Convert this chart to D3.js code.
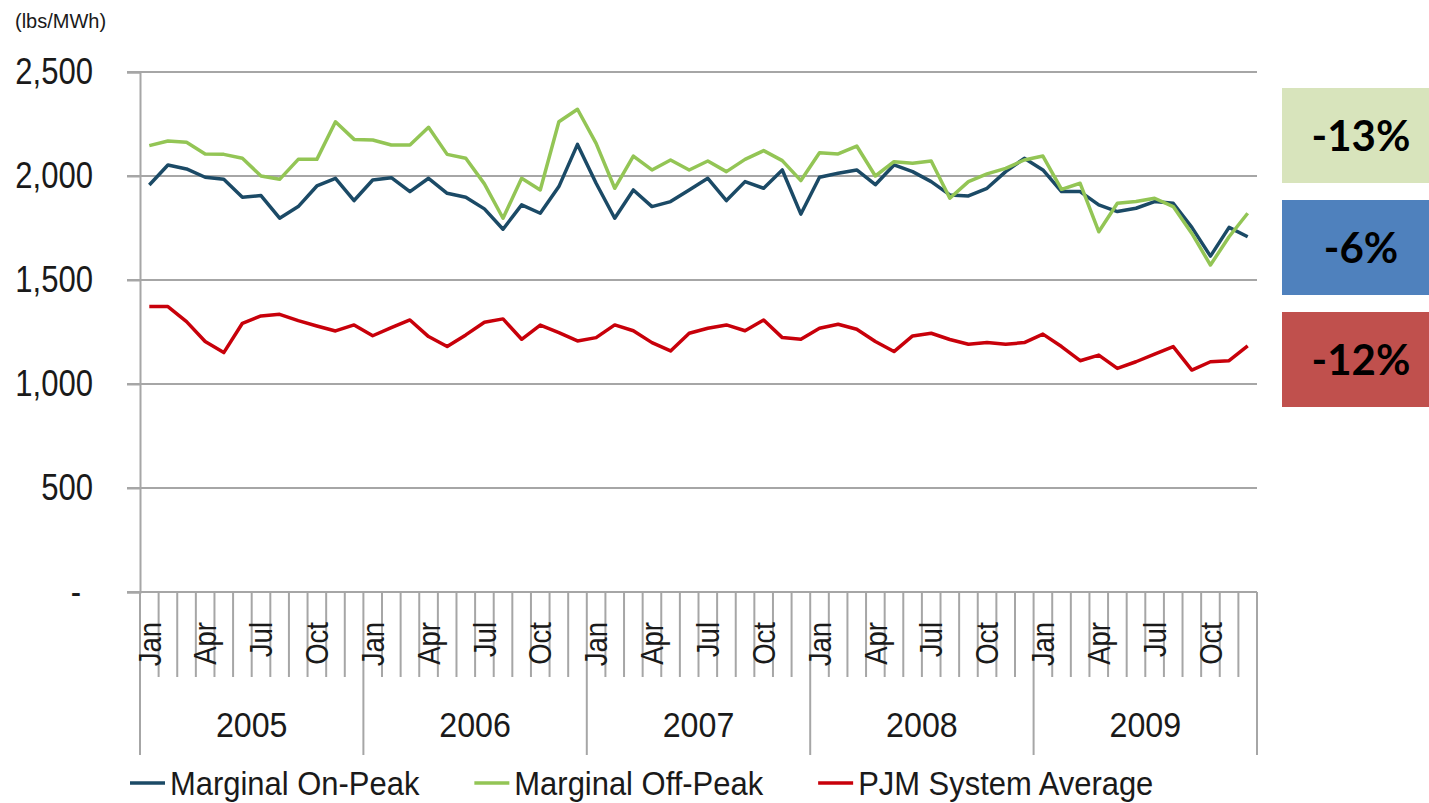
<!DOCTYPE html>
<html>
<head>
<meta charset="utf-8">
<script src="https://cdn.jsdelivr.net/npm/d3@7"></script>
<style>
  body { margin: 0; background: #fff; }
  svg { display: block; }
</style>
</head>
<body>
<div id="chart"></div>
<script>
// Data (lbs/MWh, monthly Jan 2005 - Dec 2009)
const years = [2005, 2006, 2007, 2008, 2009];
const months = ["Jan", "Feb", "Mar", "Apr", "May", "Jun", "Jul", "Aug", "Sep", "Oct", "Nov", "Dec"];
const shownMonths = ["Jan", "Apr", "Jul", "Oct"];
const yTicks = [0, 500, 1000, 1500, 2000, 2500];
const seriesNames = ["Marginal On-Peak", "Marginal Off-Peak", "PJM System Average"];

const onPeak = [
  1957, 2053, 2034, 1994, 1984, 1898, 1906, 1797, 1853, 1952, 1989, 1882,
  1981, 1992, 1925, 1989, 1917, 1898, 1842, 1744, 1861, 1821, 1949, 2152,
  1965, 1797, 1933, 1853, 1877, 1933, 1989, 1882, 1973, 1941, 2029, 1817,
  1994, 2013, 2029, 1958, 2053, 2021, 1973, 1909, 1904, 1941, 2021, 2085,
  2029, 1925, 1925, 1861, 1829, 1845, 1877, 1869, 1753, 1615, 1753, 1708
];
const offPeak = [
  2146, 2168, 2162, 2106, 2104, 2085, 2000, 1984, 2080, 2080, 2261, 2176,
  2173, 2149, 2149, 2234, 2104, 2085, 1962, 1797, 1989, 1933, 2261, 2321,
  2157, 1941, 2096, 2029, 2077, 2029, 2072, 2021, 2080, 2122, 2074, 1978,
  2112, 2106, 2144, 2000, 2069, 2061, 2072, 1893, 1973, 2010, 2037, 2077,
  2096, 1936, 1965, 1732, 1869, 1877, 1893, 1853, 1724, 1572, 1708, 1821
];
const systemAvg = [
  1372, 1372, 1300, 1204, 1151, 1292, 1327, 1335, 1305, 1279, 1255, 1284,
  1232, 1271, 1308, 1228, 1180, 1236, 1297, 1313, 1215, 1283, 1247, 1207,
  1223, 1284, 1256, 1199, 1159, 1244, 1268, 1284, 1256, 1308, 1223, 1215,
  1268, 1287, 1263, 1204, 1156, 1231, 1244, 1214, 1191, 1199, 1191, 1199,
  1240, 1180, 1112, 1139, 1075, 1107, 1144, 1180, 1067, 1107, 1112, 1183
];
const changeLabels = ["-13%", "-6%", "-12%"];

const width = 1429;
const height = 803;
const gridColor = "#a6a6a6";
const textColor = "#1a1a1a";
const lineColors = ["#1b4a66", "#93c555", "#c8000a"];
const boxColors = ["#d8e4bc", "#4f81bd", "#c0504d"];

// narrow the text a bit, the source used a condensed face
function squeeze(sel, k) {
  sel.each(function () {
    const w = this.getComputedTextLength();
    d3.select(this).attr("textLength", w * k).attr("lengthAdjust", "spacingAndGlyphs");
  });
}

const svg = d3.select("#chart")
  .append("svg")
  .attr("width", width)
  .attr("height", height)
  .style("font-family", "'Liberation Sans', Arial, sans-serif");

const dates = years.flatMap(yr => months.map(m => `${m} ${yr}`));

const x = d3.scaleBand()
  .domain(dates)
  .range([140, 1257])
  .padding(0);

const y = d3.scaleLinear()
  .domain([0, 2500])
  .range([592, 72]);

const bw = x.bandwidth();

// Horizontal gridlines
svg.append("g")
  .selectAll("line")
  .data(yTicks)
  .join("line")
  .attr("x1", 127)
  .attr("x2", x.range()[1])
  .attr("y1", d => y(d))
  .attr("y2", d => y(d))
  .attr("stroke", gridColor)
  .attr("stroke-width", 2);

// Y axis
const yAxis = svg.append("g")
  .attr("transform", `translate(${x.range()[0]},0)`)
  .call(d3.axisLeft(y)
    .tickValues(yTicks)
    .tickSize(13)
    .tickPadding(34)
    .tickFormat(d => d === 0 ? "-" : d3.format(",")(d)));

yAxis.select(".domain").attr("stroke", gridColor).attr("stroke-width", 2);
yAxis.selectAll(".tick line").attr("stroke", gridColor).attr("stroke-width", 2);
yAxis.selectAll(".tick text")
  .attr("fill", textColor)
  .style("font-size", "37px")
  .call(squeeze, 0.84);
// the zero dash sits a little further left, like an accounting format
yAxis.selectAll(".tick text").filter(d => d === 0).attr("dx", -12);

svg.append("text")
  .attr("x", 15)
  .attr("y", 28)
  .attr("fill", textColor)
  .style("font-size", "20px")
  .text("(lbs/MWh)");

// X axis: month ticks, year separators
const boundaries = dates.map((d, i) => ({ x: x(d), yearStart: i % 12 === 0 }))
  .concat([{ x: x.range()[1], yearStart: true }]);

svg.append("g")
  .selectAll("line")
  .data(boundaries)
  .join("line")
  .attr("x1", d => d.x)
  .attr("x2", d => d.x)
  .attr("y1", y(0))
  .attr("y2", d => d.yearStart ? 755 : 677)
  .attr("stroke", gridColor)
  .attr("stroke-width", 2);

svg.append("g")
  .selectAll("text")
  .data(dates.filter(d => shownMonths.includes(d.split(" ")[0])))
  .join("text")
  .attr("transform", d => `translate(${x(d) + bw / 2},622) rotate(-90)`)
  .attr("text-anchor", "end")
  .attr("dy", "0.35em")
  .attr("fill", textColor)
  .style("font-size", "32px")
  .text(d => d.split(" ")[0])
  .call(squeeze, 0.86);

svg.append("g")
  .selectAll("text")
  .data(years)
  .join("text")
  .attr("x", yr => x(`Jan ${yr}`) + bw * 6)
  .attr("y", 737)
  .attr("text-anchor", "middle")
  .attr("fill", textColor)
  .style("font-size", "35px")
  .text(yr => yr)
  .call(squeeze, 0.92);

// Lines
const series = [onPeak, offPeak, systemAvg];
const line = d3.line()
  .x((d, i) => x(dates[i]) + bw / 2)
  .y(d => y(d));

svg.append("g")
  .selectAll("path")
  .data(series)
  .join("path")
  .attr("d", d => line(d))
  .attr("fill", "none")
  .attr("stroke", (d, i) => lineColors[i])
  .attr("stroke-width", 3.5)
  .attr("stroke-linejoin", "round");

// Legend
let lx = 130;
seriesNames.forEach((name, i) => {
  svg.append("line")
    .attr("x1", lx)
    .attr("x2", lx + 35)
    .attr("y1", 783)
    .attr("y2", 783)
    .attr("stroke", lineColors[i])
    .attr("stroke-width", 3.5);
  const t = svg.append("text")
    .attr("x", lx + 40)
    .attr("y", 783)
    .attr("dy", "0.35em")
    .attr("fill", textColor)
    .style("font-size", "34px")
    .text(name)
    .call(squeeze, 0.91);
  lx += 40 + +t.attr("textLength") + 55;
});

// Change boxes on the right
const boxes = svg.append("g")
  .selectAll("g")
  .data(changeLabels)
  .join("g")
  .attr("transform", (d, i) => `translate(1282,${88 + i * 112})`);

boxes.append("rect")
  .attr("width", width - 1282)
  .attr("height", 95)
  .attr("fill", (d, i) => boxColors[i]);

boxes.append("text")
  .attr("x", 79)
  .attr("y", 47.5)
  .attr("dy", "0.37em")
  .attr("text-anchor", "middle")
  .attr("fill", "#000")
  .style("font-family", "Lato, 'Open Sans', sans-serif")
  .style("font-weight", 700)
  .style("font-size", "42px")
  .text(d => d);
</script>
</body>
</html>
